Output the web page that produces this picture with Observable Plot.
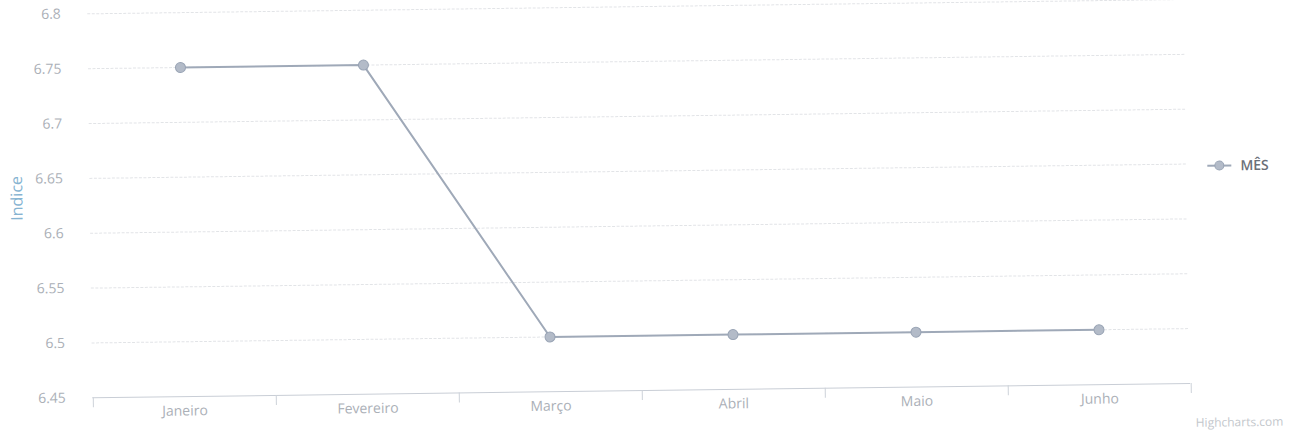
<!DOCTYPE html>
<html><head><meta charset="utf-8">
<script src="https://cdn.jsdelivr.net/npm/d3@7"></script>
<script src="https://cdn.jsdelivr.net/npm/@observablehq/plot@0.6"></script>
<style>
html,body{margin:0;padding:0;background:#fff;overflow:hidden;}
#wrap{position:relative;width:1300px;height:439px;transform:rotate(-0.75deg);transform-origin:650px 220px;font-family:"Open Sans",sans-serif;}
#chart{position:absolute;left:0;top:0;}
#legend{position:absolute;left:1206px;top:163px;display:flex;align-items:center;font-size:14px;font-weight:600;color:#6b7078;}
#legend svg{margin-right:7px;}
#credit{position:absolute;left:1193px;top:421px;font-size:12px;color:#c3c7cc;}
</style></head><body>
<div id="wrap"><div id="chart"></div><div id="legend"></div><div id="credit"></div></div>
<script>
const months = ["Janeiro", "Fevereiro", "Março", "Abril", "Maio", "Junho"];
const values = [6.75, 6.75, 6.5, 6.5, 6.5, 6.5];
const yTicks = [6.45, 6.5, 6.55, 6.6, 6.65, 6.7, 6.75, 6.8];
const seriesName = "MÊS";
const yTitle = "Indice";
const creditText = "Highcharts.com";

const data = months.map((m, i) => ({month: m, value: values[i]}));

const W = 1300, H = 439, mL = 90, mR = 112, mT = 6, mB = 49;
const step = (W - mL - mR) / months.length;
const lineColor = "#9fa9b8";
const gridColor = "#e2e4e7";
const tickLen = (yTicks[yTicks.length - 1] - yTicks[0]) / (H - mT - mB) * 10;

const chart = Plot.plot({
  width: W, height: H,
  marginLeft: mL, marginRight: mR, marginTop: mT, marginBottom: mB,
  style: {fontFamily: "'Open Sans', sans-serif", fontSize: "14px", color: "#abb0b7", background: "transparent", overflow: "visible"},
  x: {type: "point", domain: months, padding: 0.5, label: null, tickSize: 0, tickPadding: 9},
  y: {domain: [yTicks[0], yTicks[yTicks.length - 1]], ticks: yTicks, tickFormat: d => String(+d.toFixed(2)), tickSize: 0, tickPadding: 27, label: null},
  marks: [
    Plot.ruleY(yTicks.slice(1), {stroke: gridColor, strokeWidth: 1, strokeDasharray: "3,1.5"}),
    Plot.ruleY([yTicks[0]], {stroke: "#c9ced6", strokeWidth: 1}),
    Plot.ruleX(months, {x: d => d, dx: -step / 2, y1: yTicks[0], y2: yTicks[0] - tickLen, stroke: "#cdd2d9"}),
    Plot.ruleX(months.slice(-1), {x: d => d, dx: step / 2, y1: yTicks[0], y2: yTicks[0] - tickLen, stroke: "#cdd2d9"}),
    Plot.text([yTitle], {text: d => d, frameAnchor: "left", dx: -73, dy: 14, rotate: -90, fill: "#86b3d1", fontSize: 16}),
    Plot.line(data, {x: "month", y: "value", stroke: lineColor, strokeWidth: 2}),
    Plot.dot(data, {x: "month", y: "value", r: 5, fill: "#b3bbc8", stroke: "#98a3b4", strokeWidth: 1})
  ]
});
document.getElementById("chart").appendChild(chart);

document.getElementById("legend").innerHTML =
  `<svg width="28" height="12"><line x1="2" x2="26" y1="6" y2="6" stroke="${lineColor}" stroke-width="2"/><circle cx="14" cy="6" r="4.5" fill="#b3bbc8" stroke="#98a3b4"/></svg><span>${seriesName}</span>`;
document.getElementById("credit").textContent = creditText;
</script>
</body></html>
